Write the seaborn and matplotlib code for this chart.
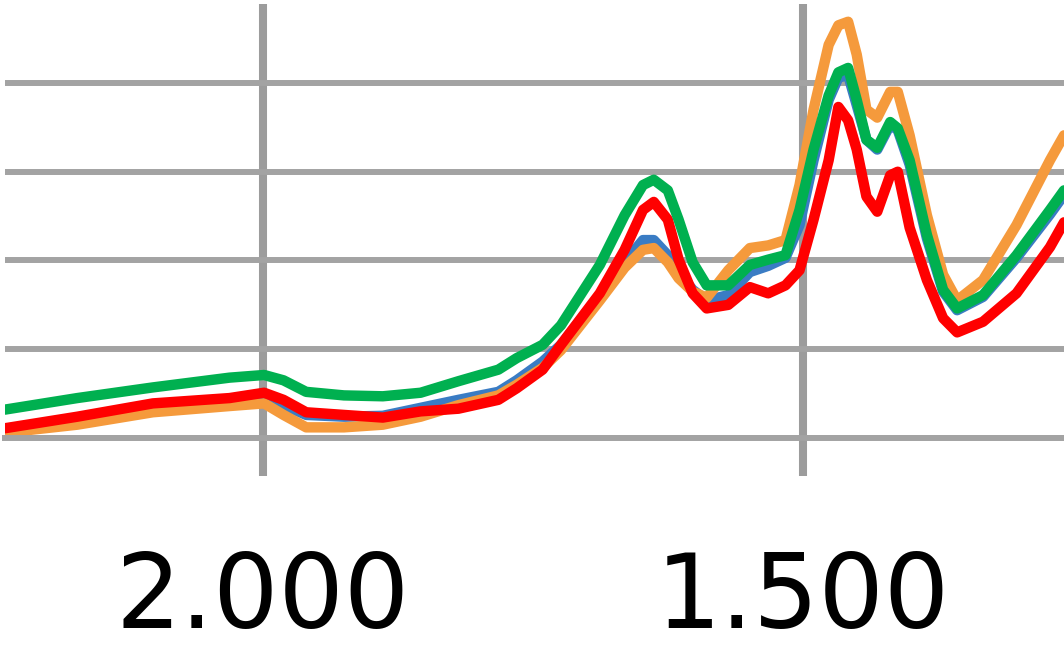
import pandas as pd
import numpy as np
import matplotlib
matplotlib.use("Agg")
import matplotlib.pyplot as plt
import matplotlib.ticker as mticker
import seaborn as sns

# wavenumber (cm-1)
wavenumber = [2239, 2172, 2102, 2031, 1999, 1981, 1960, 1925, 1889, 1854,
              1819, 1782, 1765, 1741, 1724, 1688, 1665, 1648, 1638, 1625,
              1615, 1602, 1589, 1569, 1549, 1532, 1516, 1503, 1490, 1476,
              1467, 1458, 1450, 1441, 1431, 1419, 1412, 1401, 1385, 1370,
              1357, 1333, 1302, 1271, 1258]

blue = [0.009, 0.020, 0.036, 0.043, 0.046, 0.037, 0.026, 0.024, 0.025, 0.034,
        0.043, 0.052, 0.065, 0.086, 0.105, 0.161, 0.198, 0.223, 0.223, 0.206,
        0.187, 0.167, 0.155, 0.161, 0.187, 0.194, 0.203, 0.240, 0.313, 0.381,
        0.406, 0.409, 0.375, 0.336, 0.325, 0.353, 0.347, 0.308, 0.225, 0.165,
        0.144, 0.159, 0.203, 0.252, 0.274]

orange = [0.006, 0.015, 0.029, 0.036, 0.039, 0.026, 0.012, 0.012, 0.015, 0.024,
          0.037, 0.048, 0.060, 0.079, 0.099, 0.155, 0.192, 0.212, 0.214, 0.198,
          0.180, 0.165, 0.158, 0.189, 0.214, 0.217, 0.223, 0.285, 0.370, 0.443,
          0.465, 0.469, 0.432, 0.370, 0.361, 0.390, 0.390, 0.341, 0.251, 0.184,
          0.155, 0.178, 0.240, 0.313, 0.341]

red = [0.011, 0.024, 0.039, 0.045, 0.051, 0.043, 0.029, 0.026, 0.023, 0.030,
       0.033, 0.043, 0.056, 0.077, 0.105, 0.163, 0.212, 0.257, 0.266, 0.246,
       0.201, 0.163, 0.146, 0.150, 0.170, 0.163, 0.172, 0.189, 0.246, 0.313,
       0.373, 0.358, 0.325, 0.272, 0.255, 0.296, 0.300, 0.237, 0.178, 0.135,
       0.119, 0.131, 0.163, 0.215, 0.243]

green = [0.032, 0.045, 0.057, 0.068, 0.071, 0.065, 0.052, 0.048, 0.047, 0.051,
         0.064, 0.077, 0.090, 0.105, 0.127, 0.195, 0.251, 0.285, 0.291, 0.279,
         0.246, 0.198, 0.172, 0.172, 0.195, 0.201, 0.206, 0.257, 0.325, 0.386,
         0.412, 0.417, 0.381, 0.336, 0.327, 0.356, 0.349, 0.313, 0.229, 0.167,
         0.146, 0.161, 0.206, 0.257, 0.279]

series = {"blue": blue, "orange": orange, "red": red, "green": green}
colors = {"blue": "#3A7CC4", "orange": "#F59A3C", "red": "#FF0000", "green": "#00B050"}

df = pd.concat(
    [pd.DataFrame({"wavenumber": wavenumber, "value": vals, "sample": name})
     for name, vals in series.items()],
    ignore_index=True,
)

sns.set_style("white")
plt.rcParams['font.family'] = ['DejaVu Sans']

fig = plt.figure(figsize=(10.64, 6.55), dpi=100)
ax = fig.add_axes([5 / 1064, 1 - 438 / 655, 1 - 5 / 1064, (438 - 4) / 655])

sns.lineplot(data=df, x="wavenumber", y="value", hue="sample",
             hue_order=list(series.keys()), palette=colors,
             linewidth=7.5, legend=False, ax=ax, sort=False)

ax.set_xlim(2239, 1258)
ax.set_ylim(0, 0.489)

grid_gray = "#A3A3A3"
ax.xaxis.set_major_locator(mticker.MultipleLocator(500))
ax.yaxis.set_major_locator(mticker.MultipleLocator(0.1))
ax.xaxis.set_major_formatter(
    mticker.FuncFormatter(lambda v, p: f"{int(v):,}".replace(",", ".")))
ax.grid(axis="y", color=grid_gray, linewidth=4.3)
ax.grid(axis="x", color="#9C9C9C", linewidth=5.8)
ax.set_axisbelow(True)

ax.tick_params(axis="x", direction="out", length=27, width=5.8, color="#9C9C9C",
               labelsize=74, labelcolor="black", pad=53, bottom=True)
ax.tick_params(axis="y", left=False, labelleft=False)

for side in ["left", "right", "top"]:
    ax.spines[side].set_visible(False)
ax.spines["bottom"].set_color(grid_gray)
ax.spines["bottom"].set_linewidth(4.3)

ax.set_xlabel("")
ax.set_ylabel("")

fig.savefig("out.png", dpi=100)
